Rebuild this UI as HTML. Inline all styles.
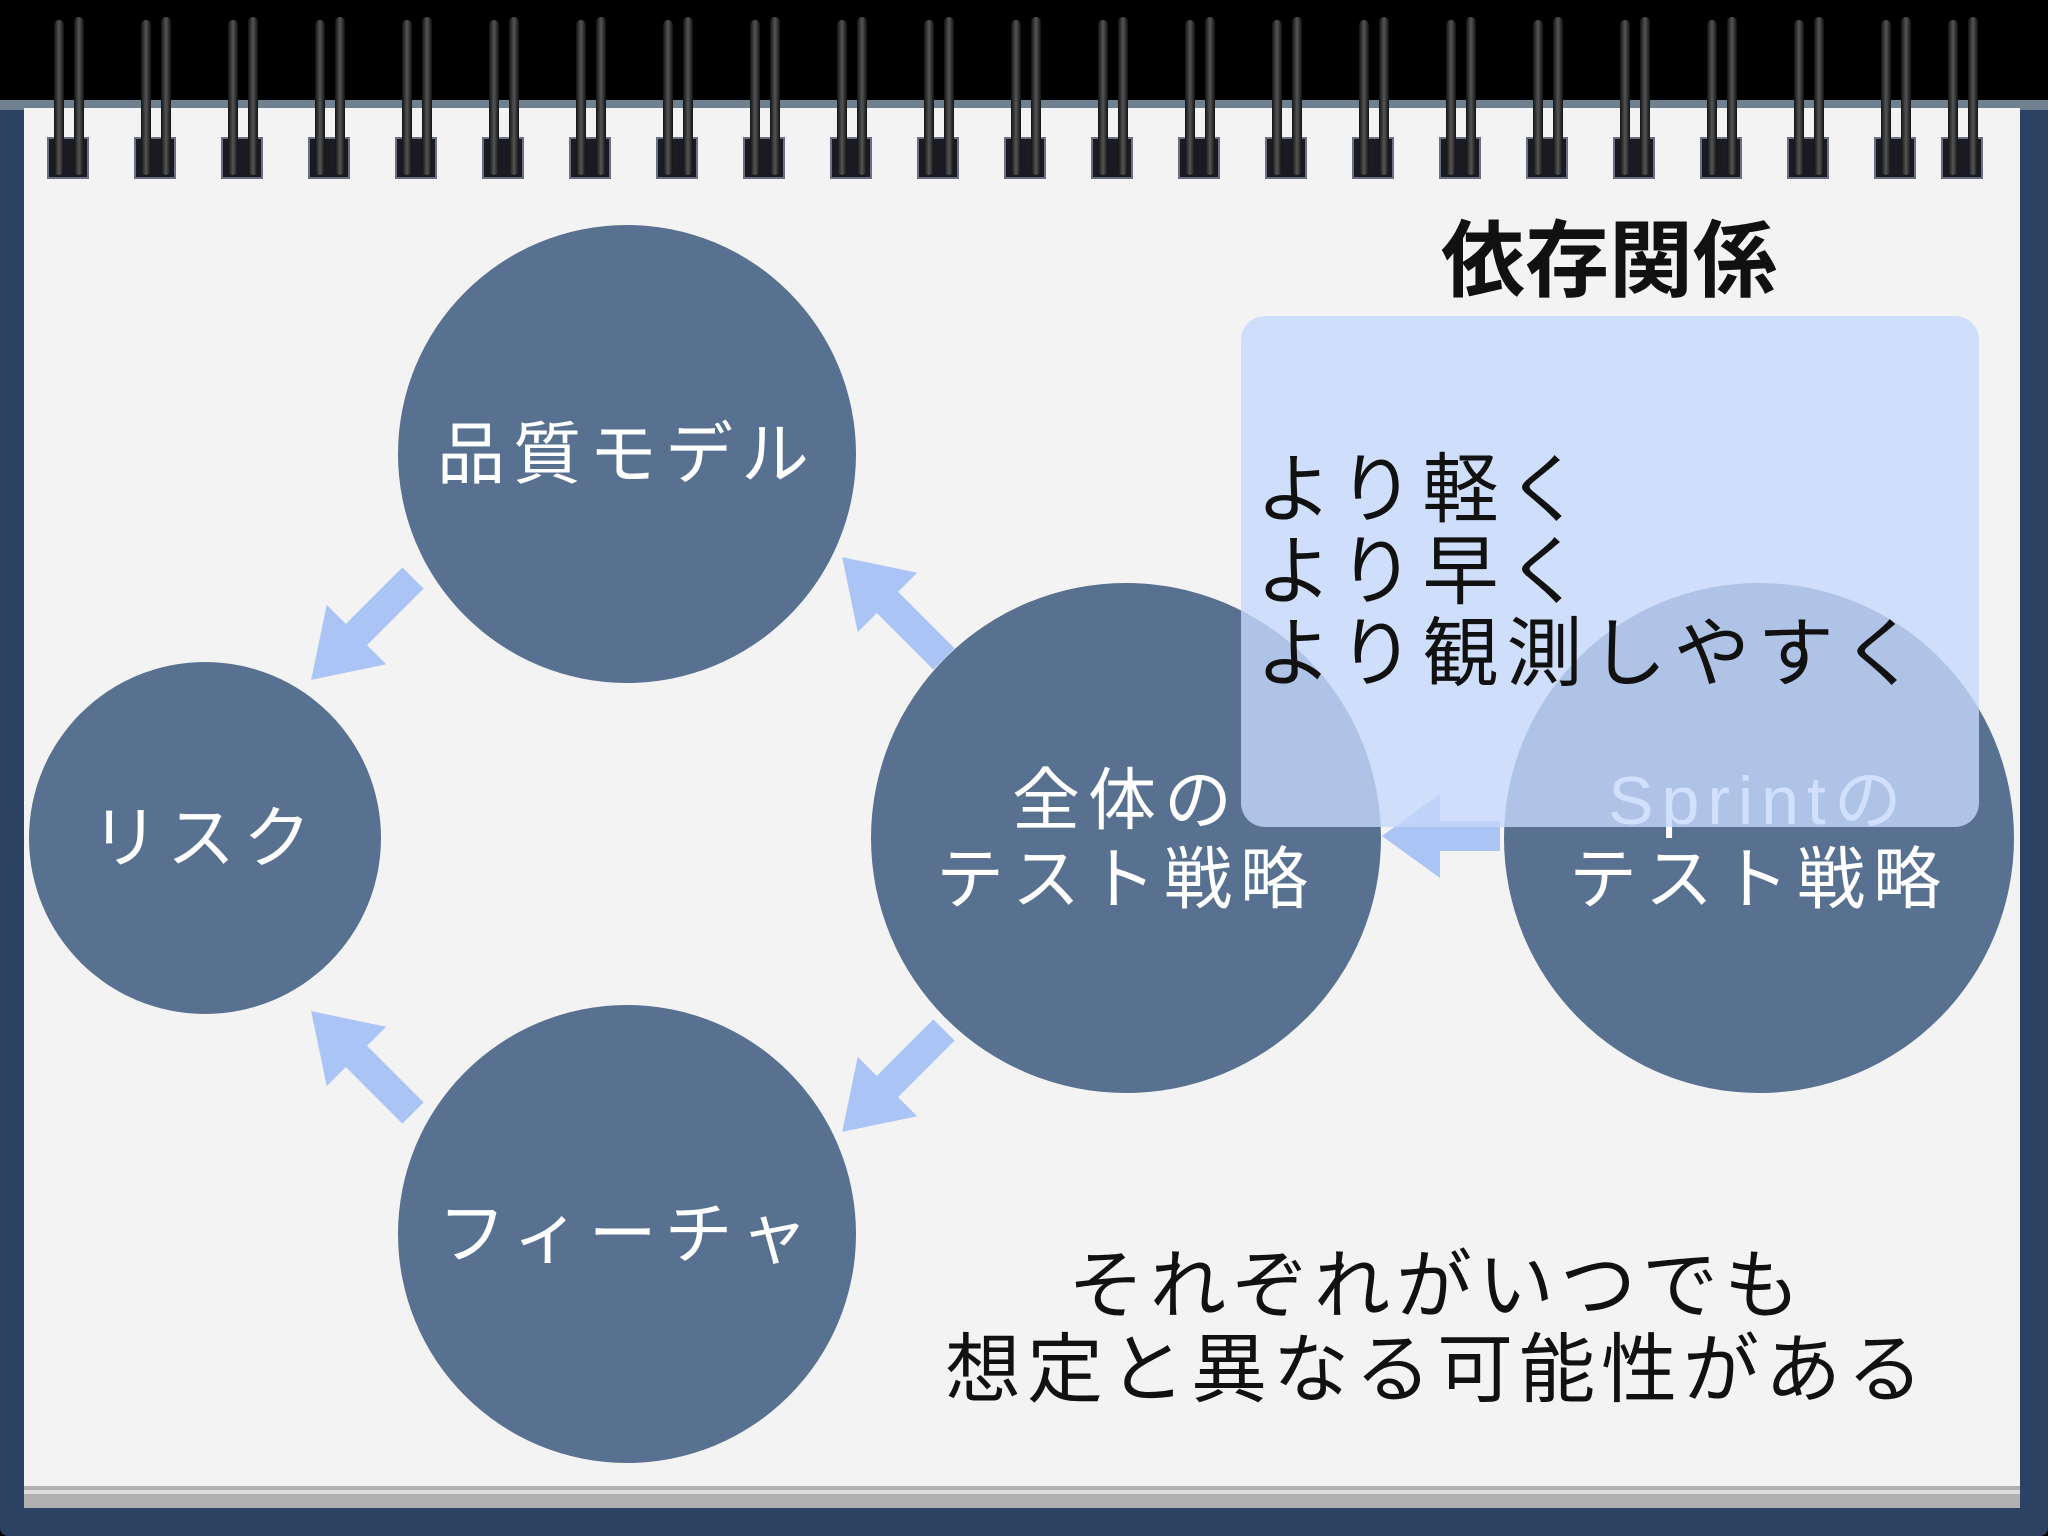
<!DOCTYPE html>
<html><head><meta charset="utf-8"><style>
html,body{margin:0;padding:0;background:#000;}
svg{display:block}
text{font-family:"Liberation Sans","Noto Sans CJK JP",sans-serif;}
</style></head><body>
<svg width="2048" height="1536" viewBox="0 0 2048 1536" xmlns="http://www.w3.org/2000/svg">
<defs>
<linearGradient id="ring" x1="0" x2="1"><stop offset="0" stop-color="#111"/><stop offset="0.5" stop-color="#555"/><stop offset="1" stop-color="#111"/></linearGradient>
<g id="r">
<rect x="-28" y="138" width="40" height="40" fill="#1a1a22" stroke="#6a7080" stroke-width="2"/>
<rect x="-22" y="20" width="10" height="155" rx="5" fill="url(#ring)"/>
<rect x="-2" y="17" width="10" height="158" rx="5" fill="url(#ring)"/>
</g>
<g id="a"><rect x="0" y="-15" width="82" height="30"/><polygon points="80,-42 144,0 80,42"/></g>
</defs>
<rect width="2048" height="1536" fill="#000"/>
<rect x="0" y="100" width="2048" height="1436" rx="8" fill="#2c4262"/>
<rect x="0" y="100" width="2048" height="10" fill="#6f8090"/>
<rect x="24" y="1480" width="1996" height="28" fill="#b0b0b0"/>
<rect x="24" y="1490" width="1996" height="4" fill="#dcdcdc"/>
<rect x="24" y="108" width="1996" height="1378" fill="#f3f3f3"/>
<g>
<use href="#r" x="76"/><use href="#r" x="163"/><use href="#r" x="250"/><use href="#r" x="337"/><use href="#r" x="424"/><use href="#r" x="511"/><use href="#r" x="598"/><use href="#r" x="685"/><use href="#r" x="772"/><use href="#r" x="859"/><use href="#r" x="946"/><use href="#r" x="1033"/><use href="#r" x="1120"/><use href="#r" x="1207"/><use href="#r" x="1294"/><use href="#r" x="1381"/><use href="#r" x="1468"/><use href="#r" x="1555"/><use href="#r" x="1642"/><use href="#r" x="1729"/><use href="#r" x="1816"/><use href="#r" x="1903"/><use href="#r" x="1970"/>
</g>
<g fill="#587190">
<circle cx="627" cy="454" r="229"/>
<circle cx="205" cy="838" r="176"/>
<circle cx="1126" cy="838" r="255"/>
<circle cx="1759" cy="838" r="255"/>
<circle cx="627" cy="1234" r="229"/>
</g>
<g fill="#a9c4f5">
<use href="#a" transform="translate(944,659) rotate(-135)"/>
<use href="#a" transform="translate(413,578) rotate(135)"/>
<use href="#a" transform="translate(413,1113) rotate(-135)"/>
<use href="#a" transform="translate(944,1030) rotate(135)"/>
<g transform="translate(1500,836) rotate(180)"><rect x="0" y="-15" width="60" height="30"/><polygon points="60,-42 118,0 60,42"/></g>
</g>
<g fill="#fff" font-size="68" text-anchor="middle" letter-spacing="8">
<text x="627" y="478">品質モデル</text>
<text x="205" y="862">リスク</text>
<text x="1126" y="824">全体の</text>
<text x="1126" y="903">テスト戦略</text>
<text x="1759" y="824">Sprintの</text>
<text x="1759" y="903">テスト戦略</text>
<text x="627" y="1258">フィーチャ</text>
</g>
<rect x="1241" y="316" width="738" height="511" rx="24" fill="#c6d8fb" fill-opacity="0.8"/>
<g fill="#111" font-size="76" letter-spacing="8">
<text x="1256" y="516">より軽く</text>
<text x="1256" y="598">より早く</text>
<text x="1256" y="680">より観測しやすく</text>
</g>
<text x="1609" y="290" font-size="84" font-weight="bold" text-anchor="middle" fill="#111">依存関係</text>
<g fill="#111" font-size="76" text-anchor="middle" letter-spacing="6">
<text x="1437" y="1312">それぞれがいつでも</text>
<text x="1437" y="1396">想定と異なる可能性がある</text>
</g>
</svg>
</body></html>
